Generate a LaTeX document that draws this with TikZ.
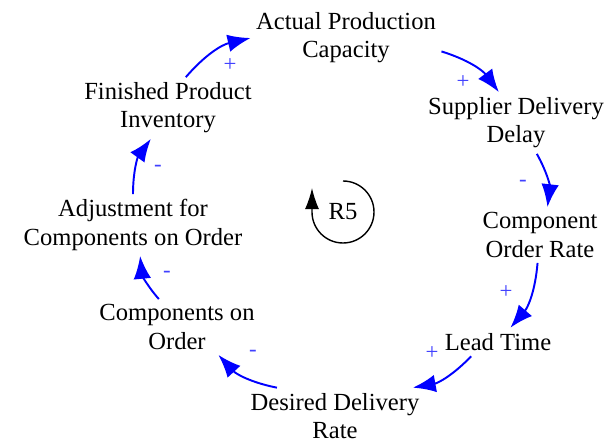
\documentclass[tikz,border=0pt]{standalone}
\usepackage{fontspec}
\setmainfont{Liberation Serif}
\usetikzlibrary{arrows.meta}

\begin{document}
\begin{tikzpicture}[
    x=0.02cm, y=-0.02cm,
    var/.style={align=center, inner sep=3pt, font=\fontsize{14}{16}\selectfont},
    link/.style={-{Latex[length=13pt,width=10pt]}, draw=blue, line width=1.1pt, bend left=18},
    pol/.style={text=blue!75, inner sep=0pt, font=\fontsize{13}{15}\selectfont},
    loopmark/.style={-{Latex[length=12pt,width=8pt]}, line width=0.8pt}
]
    \useasboundingbox (0,0) rectangle (609,442);

    % --- VARIABLES ---
    \node[var] (apc) at (346,38) {Actual Production\\Capacity};
    \node[var] (sdd) at (516,123) {Supplier Delivery\\Delay};
    \node[var] (cor) at (540,235) {Component\\Order Rate};
    \node[var] (lt)  at (498,342) {Lead Time};
    \node[var] (ddr) at (335,416) {Desired Delivery\\Rate};
    \node[var] (coo) at (177,327) {Components on\\Order};
    \node[var] (adj) at (133,225) {Adjustment for\\Components on Order};
    \node[var] (fpi) at (168,108) {Finished Product\\Inventory};

    % --- LINKS ---
    \draw[link] (fpi.60) to (apc.west);
    \draw[link] (apc.-8) to (sdd.119);
    \draw[link] (sdd.-56) to (cor.75);
    \draw[link] (cor.-95) to (lt.49);
    \draw[link] (lt.-152) to (ddr.20);
    \draw[link] (ddr.154) to (coo.-34);
    \draw[link] (coo.123) to (adj.-77);
    \draw[link] (adj.north) to (fpi.-119);

    % polarities
    \node[pol] (p1) at (230,65) {+};
    \node[pol] (p2) at (463,82) {+};
    \node[pol] (p3) at (523,183) {-};
    \node[pol] (p4) at (506,292) {+};
    \node[pol] (p5) at (432,353) {+};
    \node[pol] (p6) at (253,353) {-};
    \node[pol] (p7) at (167,274) {-};
    \node[pol] (p8) at (158,168) {-};

    % --- LOOP R5 ---
    \node[var] (r5) at (343,212) {R5};
    \draw[loopmark] (343,181) arc[start angle=-90, end angle=180, radius=31] -- ++(0,-24);

\end{tikzpicture}
\end{document}
